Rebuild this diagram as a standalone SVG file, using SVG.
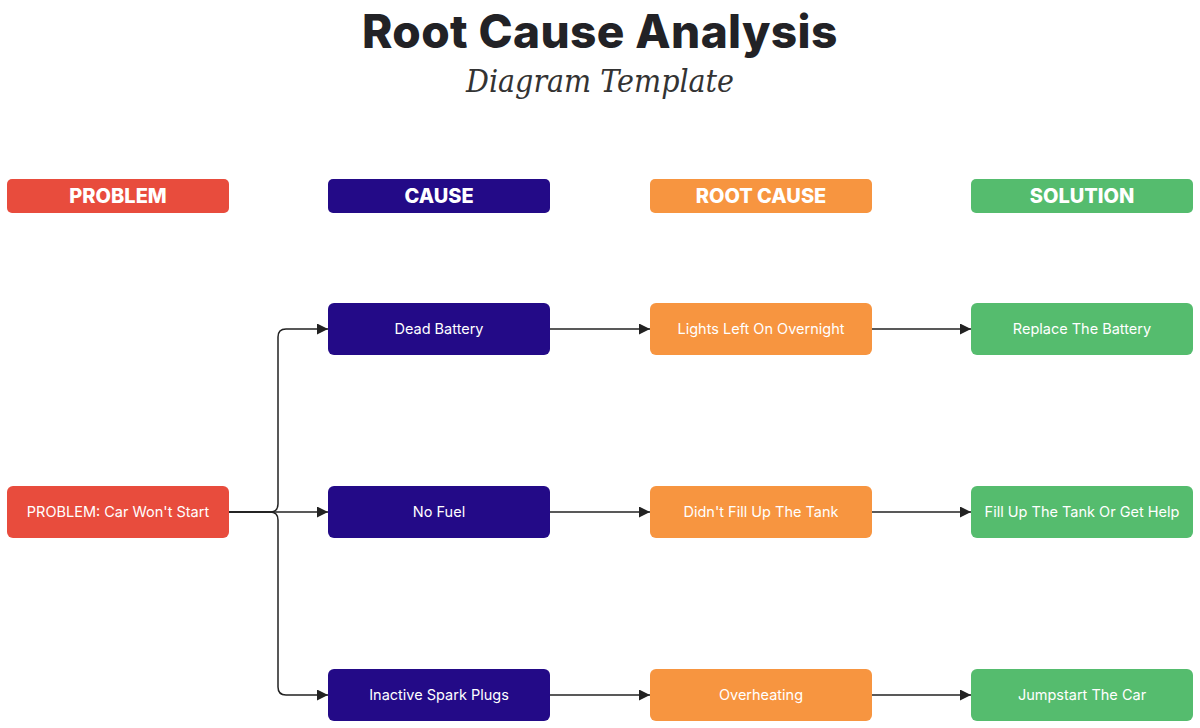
<svg xmlns="http://www.w3.org/2000/svg" width="1200" height="728" viewBox="0 0 1200 728">
<style>
.title{font-family:Inter,"Open Sans",sans-serif;font-weight:800;font-size:46px;fill:#222226;letter-spacing:0.6px}
.sub{font-family:"DejaVu Serif","Liberation Serif",serif;font-style:italic;font-weight:300;font-size:32px;fill:#333}
.hdr{font-family:Inter,"Open Sans",sans-serif;font-weight:800;font-size:20px;fill:#fff}
.lbl{font-family:Inter,"Open Sans",sans-serif;font-size:14.5px;fill:#fff}
.red{fill:#E84C3D}.navy{fill:#230A87}.orange{fill:#F79540}.green{fill:#55BC6E}
.edge{fill:none;stroke:#222;stroke-width:1.5}
</style>
<defs>
<marker id="arr" viewBox="0 0 10 10" refX="10" refY="5" markerWidth="11" markerHeight="11" markerUnits="userSpaceOnUse" orient="auto">
<path d="M0,0 L10,5 L0,10 Z" fill="#222"/>
</marker>
</defs>
<rect width="1200" height="728" fill="#fff"/>
<g id="title">
<text class="title" x="600" y="48" text-anchor="middle" textLength="476" lengthAdjust="spacing">Root Cause Analysis</text>
<text class="sub" x="600" y="92" text-anchor="middle" textLength="268" lengthAdjust="spacingAndGlyphs">Diagram Template</text>
</g>
<g id="headers">
<g id="h-problem"><rect class="red" x="7" y="179" width="222" height="34" rx="5"/><text class="hdr" x="118" y="203" text-anchor="middle">PROBLEM</text></g>
<g id="h-cause"><rect class="navy" x="328" y="179" width="222" height="34" rx="5"/><text class="hdr" x="439" y="203" text-anchor="middle">CAUSE</text></g>
<g id="h-root"><rect class="orange" x="650" y="179" width="222" height="34" rx="5"/><text class="hdr" x="761" y="203" text-anchor="middle">ROOT CAUSE</text></g>
<g id="h-solution"><rect class="green" x="971" y="179" width="222" height="34" rx="5"/><text class="hdr" x="1082" y="203" text-anchor="middle">SOLUTION</text></g>
</g>
<g id="connectors">
<path class="edge" d="M229,512 L270,512 Q278,512 278,504 L278,337 Q278,329 286,329 L328,329" marker-end="url(#arr)"/>
<path class="edge" d="M229,512 L328,512" marker-end="url(#arr)"/>
<path class="edge" d="M229,512 L270,512 Q278,512 278,520 L278,687 Q278,695 286,695 L328,695" marker-end="url(#arr)"/>
<path class="edge" d="M550,329 L650,329" marker-end="url(#arr)"/>
<path class="edge" d="M550,512 L650,512" marker-end="url(#arr)"/>
<path class="edge" d="M550,695 L650,695" marker-end="url(#arr)"/>
<path class="edge" d="M872,329 L971,329" marker-end="url(#arr)"/>
<path class="edge" d="M872,512 L971,512" marker-end="url(#arr)"/>
<path class="edge" d="M872,695 L971,695" marker-end="url(#arr)"/>
</g>
<g id="n-problem"><rect class="red" x="7" y="486" width="222" height="52" rx="6"/><text class="lbl" x="118" y="517" text-anchor="middle">PROBLEM: Car Won't Start</text></g>
<g id="n-dead-battery"><rect class="navy" x="328" y="303" width="222" height="52" rx="6"/><text class="lbl" x="439" y="334" text-anchor="middle">Dead Battery</text></g>
<g id="n-no-fuel"><rect class="navy" x="328" y="486" width="222" height="52" rx="6"/><text class="lbl" x="439" y="517" text-anchor="middle">No Fuel</text></g>
<g id="n-spark"><rect class="navy" x="328" y="669" width="222" height="52" rx="6"/><text class="lbl" x="439" y="700" text-anchor="middle">Inactive Spark Plugs</text></g>
<g id="n-lights"><rect class="orange" x="650" y="303" width="222" height="52" rx="6"/><text class="lbl" x="761" y="334" text-anchor="middle">Lights Left On Overnight</text></g>
<g id="n-tank"><rect class="orange" x="650" y="486" width="222" height="52" rx="6"/><text class="lbl" x="761" y="517" text-anchor="middle">Didn't Fill Up The Tank</text></g>
<g id="n-overheat"><rect class="orange" x="650" y="669" width="222" height="52" rx="6"/><text class="lbl" x="761" y="700" text-anchor="middle">Overheating</text></g>
<g id="n-replace"><rect class="green" x="971" y="303" width="222" height="52" rx="6"/><text class="lbl" x="1082" y="334" text-anchor="middle">Replace The Battery</text></g>
<g id="n-fill"><rect class="green" x="971" y="486" width="222" height="52" rx="6"/><text class="lbl" x="1082" y="517" text-anchor="middle">Fill Up The Tank Or Get Help</text></g>
<g id="n-jump"><rect class="green" x="971" y="669" width="222" height="52" rx="6"/><text class="lbl" x="1082" y="700" text-anchor="middle">Jumpstart The Car</text></g>
</svg>
